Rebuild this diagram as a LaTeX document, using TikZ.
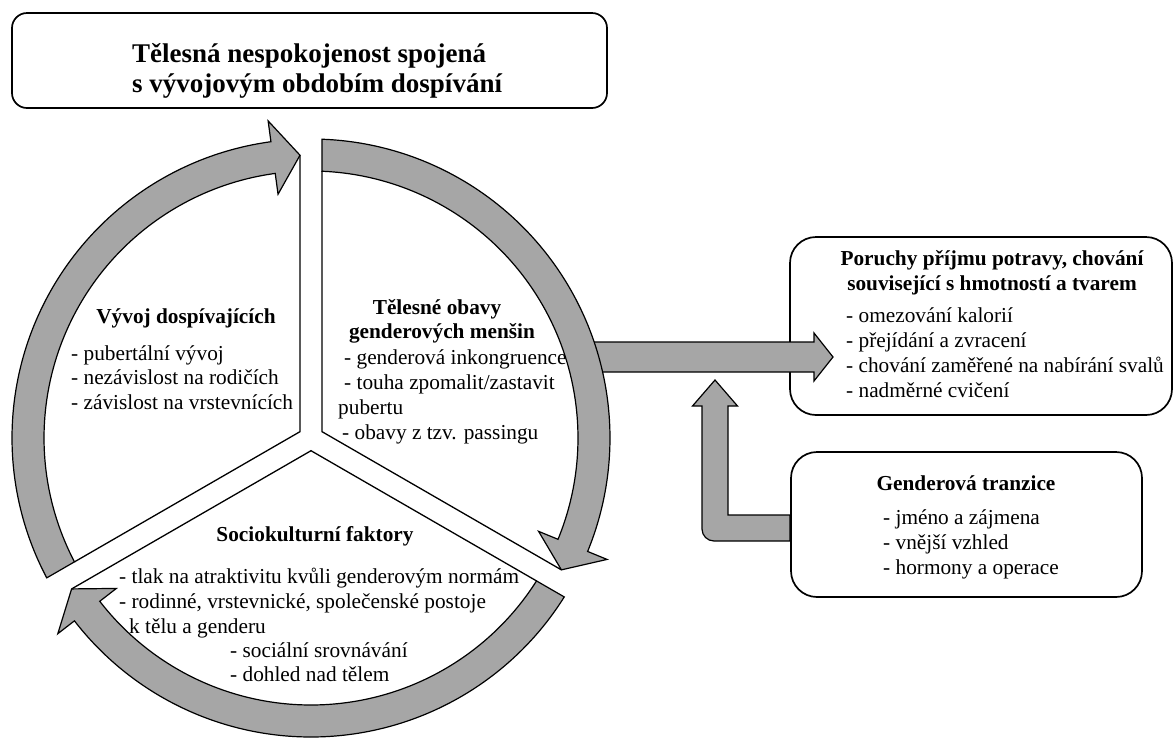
\documentclass[tikz,border=0pt]{standalone}
\usepackage{fontspec}
\setmainfont{Liberation Serif}
\usetikzlibrary{calc}
\definecolor{arrowgray}{RGB}{166,166,166}
\begin{document}
\begin{tikzpicture}[x=1pt,y=1pt,
  blockarrow/.style={fill=arrowgray,draw=black,line width=1.2pt,line join=miter,miter limit=10},
  sectorline/.style={draw=black,line width=1.3pt,line join=miter},
  roundbox/.style={draw=black,line width=1.7pt,rounded corners=#1,fill=white,inner sep=0pt},
  txt/.style={font=\fontsize{21.3}{24.5}\selectfont,inner sep=0pt},
  head/.style={font=\fontsize{21.3}{24.5}\selectfont\bfseries,inner sep=0pt},
  ttl/.style={font=\fontsize{27}{31}\selectfont\bfseries,inner sep=0pt}]
\useasboundingbox (0,0) rectangle (1176,-740);

% boxes
\node[roundbox=15pt, minimum width=595pt, minimum height=95pt] (titlebox) at (309.5,-60.5) {};
\node[roundbox=26pt, minimum width=382pt, minimum height=178pt] (box1) at (981,-326) {};

% horizontal arrow to box 1
\path[blockarrow] (575,-342) -- (814,-342) -- (814,-333) -- (833,-357) -- (814,-381) -- (814,-372) -- (575,-372) -- cycle;

% L-shaped arrow from box 2
\path[blockarrow] (790,-515) -- (728,-515) -- (728,-406) -- (737.5,-406) -- (715,-380) -- (692.5,-406) -- (702,-406) -- (702,-529) arc[start angle=180,end angle=270,radius=12pt] -- (790,-541) -- cycle;
\node[roundbox=26pt, minimum width=351pt, minimum height=145pt] (box2) at (966.5,-524.5) {};

% cycle of three arrows
\coordinate (C) at (311,-438);
\begin{scope}[shift={(C)}]
  % left arrow (up to the top)
  \path[blockarrow] (207.892:299) arc[start angle=207.892,end angle=97.7,radius=299pt]
    -- (97.7:320) -- (92.228:283) -- (97.7:246) -- (97.7:267)
    arc[start angle=97.7,end angle=207.639,radius=267pt] -- cycle;
  % right arrow (down to the right)
  \path[blockarrow] (87.892:299) arc[start angle=87.892,end angle=-22.3,radius=299pt]
    -- (-22.3:320) -- (-27.772:283) -- (-22.3:246) -- (-22.3:267)
    arc[start angle=-22.3,end angle=87.639,radius=267pt] -- cycle;
  % bottom arrow (to the left)
  \path[blockarrow] (-32.108:299) arc[start angle=-32.108,end angle=-142.3,radius=299pt]
    -- (-142.3:320) -- (212.228:283) -- (-142.3:246) -- (-142.3:267)
    arc[start angle=-142.3,end angle=-32.361,radius=267pt] -- cycle;
  % sector separators
  \coordinate (L) at (150:12.7);
  \coordinate (R) at (30:12.7);
  \coordinate (B) at (270:12.7);
  \coordinate (lt) at (92.228:283);
  \coordinate (lb) at (207.639:267);
  \coordinate (rt) at (87.639:267);
  \coordinate (rb) at (-27.772:283);
  \coordinate (bl) at (212.228:283);
  \coordinate (br) at (-32.361:267);
  \draw[sectorline] (lt) -- (L) -- (lb);
  \draw[sectorline] (rt) -- (R) -- (rb);
  \draw[sectorline] (bl) -- (B) -- (br);
\end{scope}

% title text
\node[ttl, anchor=base west] (t1) at (132,-62) {Tělesná nespokojenost spojená};
\node[ttl, anchor=base west] (t2) at (132,-92) {s vývojovým obdobím dospívání};

% left sector
\node[head, anchor=base] (vh) at (186,-323) {Vývoj dospívajících};
\node[txt, anchor=base west] (v1) at (71,-360) {- pubertální vývoj};
\node[txt, anchor=base west] (v2) at (71,-384) {- nezávislost na rodičích};
\node[txt, anchor=base west] (v3) at (71,-409) {- závislost na vrstevnících};

% right sector
\node[head, anchor=base] (gh1) at (437,-314) {Tělesné obavy};
\node[head, anchor=base] (gh2) at (442,-338) {genderových menšin};
\node[txt, anchor=base west] (g1) at (344,-364) {- genderová inkongruence};
\node[txt, anchor=base west] (g2) at (344,-389) {- touha zpomalit/zastavit};
\node[txt, anchor=base west] (g3) at (338,-414) {pubertu};
\node[txt, anchor=base west] (g4) at (342,-439) {- obavy z tzv. passingu};

% bottom sector
\node[head, anchor=base] (sh) at (315,-541) {Sociokulturní faktory};
\node[txt, anchor=base west] (s1) at (119,-583) {- tlak na atraktivitu kvůli genderovým normám};
\node[txt, anchor=base west] (s2) at (119,-608) {- rodinné, vrstevnické, společenské postoje};
\node[txt, anchor=base west] (s3) at (129,-633) {k tělu a genderu};
\node[txt, anchor=base west] (s4) at (230,-657) {- sociální srovnávání};
\node[txt, anchor=base west] (s5) at (230,-681) {- dohled nad tělem};

% box 1 text
\node[head, anchor=base] (p1) at (992,-265) {Poruchy příjmu potravy, chování};
\node[head, anchor=base] (p2) at (992,-290) {související s hmotností a tvarem};
\node[txt, anchor=base west] (pa) at (846,-322) {- omezování kalorií};
\node[txt, anchor=base west] (pb) at (846,-347) {- přejídání a zvracení};
\node[txt, anchor=base west] (pc) at (846,-372) {- chování zaměřené na nabírání svalů};
\node[txt, anchor=base west] (pd) at (846,-397) {- nadměrné cvičení};

% box 2 text
\node[head, anchor=base] (gt) at (966,-490) {Genderová tranzice};
\node[txt, anchor=base west] (ga) at (883,-524) {- jméno a zájmena};
\node[txt, anchor=base west] (gb) at (883,-549) {- vnější vzhled};
\node[txt, anchor=base west] (gc) at (883,-574) {- hormony a operace};
\end{tikzpicture}
\end{document}
